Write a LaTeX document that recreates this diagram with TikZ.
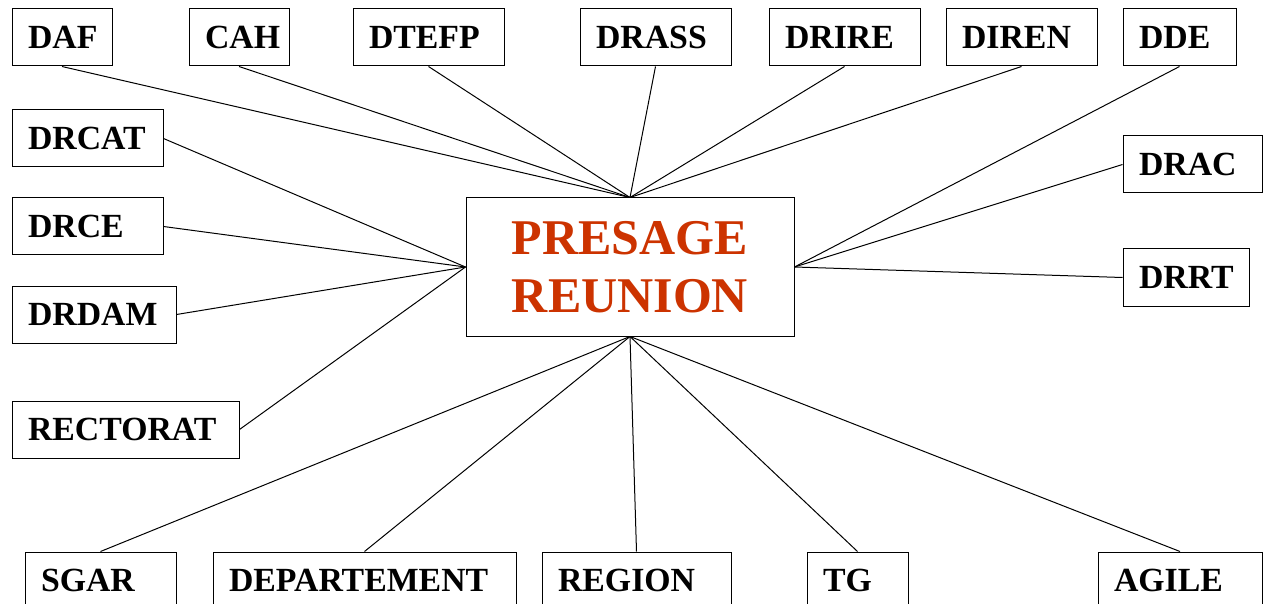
\documentclass[tikz,border=0pt]{standalone}
\usepackage{fontspec}
\setmainfont{Liberation Serif}
\definecolor{presage}{HTML}{CC3300}
\begin{document}
\begin{tikzpicture}[x=1pt,y=-1pt,
  box/.style={draw=black,line width=1pt,inner ysep=0pt,inner xsep=16pt,minimum height=57pt,
    text width=#1,align=left,font=\fontsize{33.8}{37}\selectfont\bfseries},
  link/.style={draw=black,line width=1pt}]
\useasboundingbox (0,0) rectangle (1264,604);
\clip (0,0) rectangle (1264,604);
% centre
\node[draw=black,line width=1pt,minimum width=328pt,minimum height=138pt,inner sep=0pt,
  align=center,text=presage,font=\fontsize{50}{58}\selectfont\bfseries] (c) at (630,267) {PRESAGE\\REUNION};
% top row
\node[box=68pt] (daf) at (62,37.5) {DAF};
\node[box=68pt] (cah) at (239,37.5) {CAH};
\node[box=119pt] (dtefp) at (428.5,37.5) {DTEFP};
\node[box=119pt] (drass) at (655.5,37.5) {DRASS};
\node[box=119pt] (drire) at (844.5,37.5) {DRIRE};
\node[box=119pt] (diren) at (1021.5,37.5) {DIREN};
\node[box=81pt] (dde) at (1179.5,37.5) {DDE};
% left column
\node[box=119pt] (drcat) at (87.5,138.5) {DRCAT};
\node[box=119pt] (drce) at (87.5,226.5) {DRCE};
\node[box=132pt] (drdam) at (94,314.5) {DRDAM};
\node[box=195pt] (rect) at (125.5,429.5) {RECTORAT};
% right column
\node[box=107pt] (drac) at (1192.5,164.5) {DRAC};
\node[box=94pt] (drrt) at (1186,277.5) {DRRT};
% bottom row
\node[box=119pt] (sgar) at (100.5,580.5) {SGAR};
\node[box=271pt] (dep) at (364.5,580.5) {DEPARTEMENT};
\node[box=157pt] (reg) at (636.5,580.5) {REGION};
\node[box=69pt] (tg) at (857.5,580.5) {TG};
\node[box=132pt] (agile) at (1180,580.5) {AGILE};
% connectors
\foreach \n in {daf,cah,dtefp,drass,drire,diren} \draw[link] (\n.south) -- (c.north);
\draw[link] (dde.south) -- (c.east);
\foreach \n in {drcat,drce,drdam,rect} \draw[link] (\n.east) -- (c.west);
\foreach \n in {drac,drrt} \draw[link] (\n.west) -- (c.east);
\foreach \n in {sgar,dep,reg,tg,agile} \draw[link] (\n.north) -- (c.south);
\end{tikzpicture}
\end{document}
